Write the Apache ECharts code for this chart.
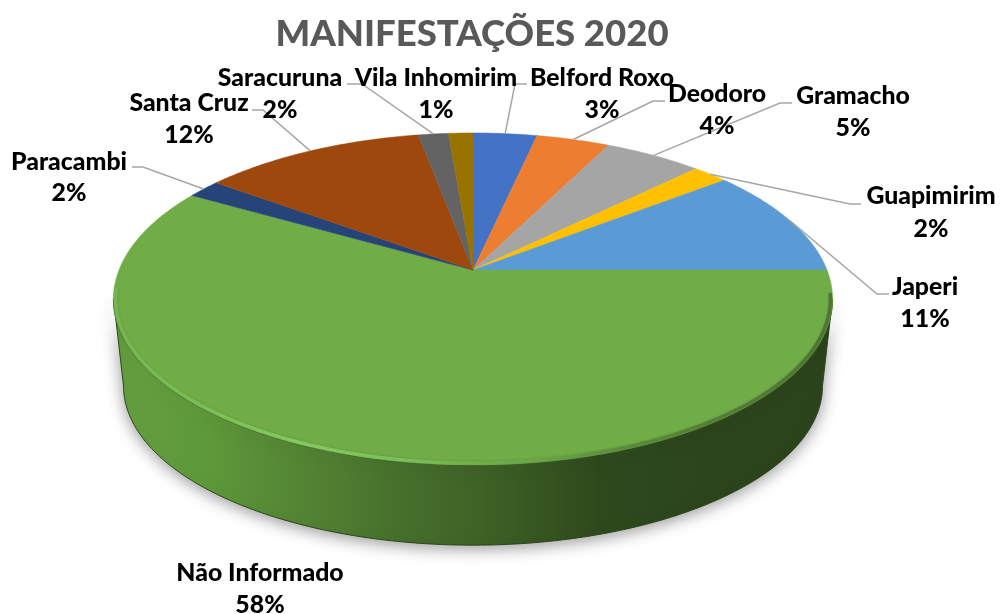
<!DOCTYPE html>
<html>
<head>
<meta charset="utf-8">
<style>html,body{margin:0;padding:0;background:#fff}#c{width:1000px;height:614px}</style>
<script src="https://cdn.jsdelivr.net/npm/echarts@6/dist/echarts.min.js"></script>
</head>
<body>
<div id="c"></div>
<script>
const categories = ['Belford Roxo','Deodoro','Gramacho','Guapimirim','Japeri','Não Informado','Paracambi','Santa Cruz','Saracuruna','Vila Inhomirim'];
const values = [3.4,3.9,5.2,1.9,10.6,58.4,1.8,11.9,1.6,1.3];
const colors = ['#4472c4','#ed7d31','#a5a5a5','#ffc000','#5b9bd5','#70ad47','#264478','#9e480e','#636363','#997300'];
const labelCx = [602,717,853,931,925,260,69,189,280,436];
const labelY  = [78,94,96,196,287,573,162,103,78,78];
const line2Y  = [110,126,128,229,319,605,193,135,110,110];
const elbowA  = [[515,84],[653,101],[780,103],[850,204],[877,294],null,[143,167],[263,110],[362,84],null];
const elbowB  = [[527,84],[665,101],[792,103],[861,204],[889,294],null,[132,167],[252,110],[347,84],null];

// perspective disc model
const CX = 473, CY = 270, R = 354, K = 161, P = 0.1747;
const total = values.reduce((a,b)=>a+b,0);
const startOf = i => values.slice(0,i).reduce((a,b)=>a+b,0)/total*360;
function rim(deg){
  const t = deg*Math.PI/180, u = Math.sin(t), v = -Math.cos(t), w = 1-P*v;
  return [CX+R*u/w, CY+K*v/w];
}
function rimLow(deg){
  const p = rim(deg);
  return [CX+(p[0]-CX)*0.972, 387+(p[1]-300)*0.958];
}
function rimIn(deg){
  const p = rim(deg);
  return [CX+(p[0]-CX)*0.994, 300+(p[1]-300)*0.988];
}
function arc(a,b,fn){
  const out=[]; const n=Math.max(2,Math.ceil((b-a)/0.5));
  for(let i=0;i<=n;i++) out.push(fn(a+(b-a)*i/n));
  return out;
}
function grad(stops){
  return {type:'linear',x:113,y:0,x2:833,y2:0,global:true,colorStops:stops.map(s=>({offset:(s[0]-113)/720,color:s[1]}))};
}
const wallFill = grad([[113,'#659f40'],[200,'#5f9a3a'],[300,'#548534'],[400,'#46702c'],[480,'#3f6226'],[600,'#2e4a1d'],[700,'#2c451b'],[833,'#2c441b']]);
const rimStroke = grad([[113,'#74b650'],[200,'#7abf56'],[300,'#84ca5e'],[400,'#7cbf58'],[470,'#71b04a'],[530,'#6ca648'],[620,'#5c8d3e'],[720,'#527d36'],[833,'#4d7533']]);
const FRONT_A = 100, FRONT_B = 260;
const data = categories.map((c,i)=>({name:c,value:values[i]}));
const front = (i)=>{
  const a=Math.max(startOf(i),FRONT_A), b=Math.min(startOf(i)+values[i]/total*360,FRONT_B);
  return b>a?[a,b]:null;
};

const option = {
  animation:false,
  backgroundColor:'#fff',
  title:{text:'MANIFESTAÇÕES 2020',left:467,top:11,textAlign:'center',
    textStyle:{fontFamily:'Lato',fontWeight:900,fontSize:36.5,color:'#595959'}},
  series:[
    {type:'custom',coordinateSystem:'none',z:1,silent:true,data,
     renderItem(params,api){
      const f=front(params.dataIndex); if(!f) return {type:'group',children:[]};
      const pts=arc(f[0],f[1],rim).concat(arc(f[0],f[1],rimLow).reverse());
      return {type:'polygon',shape:{points:pts},style:{fill:wallFill,stroke:'#2b441b',lineWidth:1,
        shadowBlur:16,shadowColor:'rgba(0,0,0,0.4)',shadowOffsetY:3}};
     }},
    {type:'custom',coordinateSystem:'none',z:2,silent:true,data,
     renderItem(params,api){
      const i=params.dataIndex, a=startOf(i), b=a+api.value(0)/total*360;
      const pts=[[CX,CY]].concat(arc(a,b,rim));
      return {type:'polygon',shape:{points:pts},style:{fill:colors[i],stroke:colors[i],lineWidth:0.5}};
     }},
    {type:'custom',coordinateSystem:'none',z:3,silent:true,data,
     renderItem(params,api){
      const f=front(params.dataIndex); if(!f) return {type:'group',children:[]};
      return {type:'polyline',shape:{points:arc(f[0]-2,f[1]+4,rimIn)},
        style:{fill:'none',stroke:rimStroke,lineWidth:3.5,shadowBlur:3,shadowColor:'rgba(70,100,45,0.35)'}};
     }},
    {type:'custom',coordinateSystem:'none',z:4,silent:true,data,
     renderItem(params,api){
      const i=params.dataIndex;
      if(!elbowA[i]) return {type:'group',children:[]};
      const mid=startOf(i)+api.value(0)/total*180;
      return {type:'polyline',shape:{points:[rim(mid),elbowA[i],elbowB[i]]},
        style:{fill:'none',stroke:'#a6a6a6',lineWidth:1.5}};
     }},
    {type:'custom',coordinateSystem:'none',z:5,silent:true,data,
     renderItem(params,api){
      const i=params.dataIndex, font='900 24.8px Lato';
      return {type:'group',children:[
        {type:'text',style:{text:categories[i],x:labelCx[i],y:labelY[i],align:'center',verticalAlign:'middle',font,fill:'#000'}},
        {type:'text',style:{text:Math.round(api.value(0))+'%',x:labelCx[i],y:line2Y[i],align:'center',verticalAlign:'middle',font,fill:'#000'}}
      ]};
     }}
  ]
};
echarts.init(document.getElementById('c'),null,{renderer:'canvas'}).setOption(option);
</script>
</body>
</html>
